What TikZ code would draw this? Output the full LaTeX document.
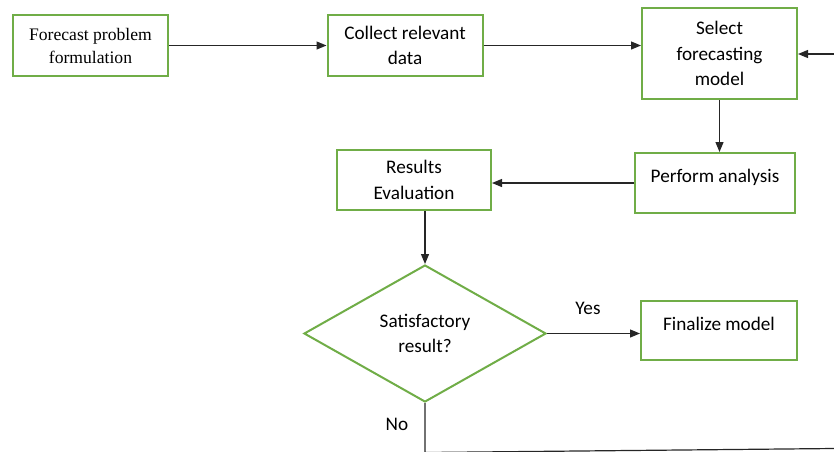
\documentclass[tikz,border=0pt]{standalone}
\usepackage{fontspec}
\setmainfont{Carlito}
\newfontfamily\timesfont{Liberation Serif}
\usetikzlibrary{arrows.meta,shapes.geometric}
\definecolor{boxgreen}{RGB}{112,173,71}
\begin{document}
\begin{tikzpicture}[x=0.5pt, y=-0.5pt, font=\fontsize{9.6}{12.75}\selectfont,
    link/.style={-{Triangle[length=5pt,width=4pt]}, line width=0.6pt, draw=black!85}]
    \useasboundingbox (0,0) rectangle (834,451);

    \begin{scope}[every node/.style={rectangle, draw=boxgreen, line width=1pt, fill=white, align=center, inner sep=0pt, minimum width=77.5pt, minimum height=30.5pt}]
        \node[font=\timesfont\fontsize{8.8}{11.5}\selectfont] (1) at (90.5,45.5) {Forecast problem\\formulation};
        \node (2) at (405,45.5) {Collect relevant\\data};
        \node[minimum height=45.5pt] (3) at (719.5,53.5) {Select\\forecasting\\model};
        \node[minimum width=80pt, minimum height=30pt] (4) at (715,183) {\raisebox{3pt}[\height][\depth]{Perform analysis}};
        \node[minimum width=77pt, minimum height=30pt] (5) at (414,180) {Results\\Evaluation};
        \node[minimum width=78pt, minimum height=29.5pt] (7) at (719,330.5) {\raisebox{3.5pt}[\height][\depth]{Finalize model}};
    \end{scope}

    \begin{scope}[every node/.style={diamond, draw=boxgreen, line width=1pt, fill=white, align=center, inner sep=0pt, minimum width=121pt, minimum height=68.5pt}]
        \node (6) at (425,333.5) {Satisfactory\\result?};
    \end{scope}

    \node (yes) at (588,308) {Yes};
    \node (no) at (397,424) {No};

    \coordinate (in) at (834,54);
    \coordinate (b1) at (425,452.5);
    \coordinate (b2) at (834,448.5);

    \draw[link] (1.east) -- (2.west);
    \draw[link] (2.east) -- (2.east -| 3.west);
    \draw[link] (in) -- (in -| 3.east);
    \draw[link] (3.south) -- (3.south |- 4.north);
    \draw[link] (4.west) -- (4.west -| 5.east);
    \draw[link] (6.north |- 5.south) -- (6.north);
    \draw[link] (6.east) -- (6.east -| 7.west);
    \draw[line width=0.6pt, draw=black!85] (6.south) -- (b1) -- (b2);
\end{tikzpicture}
\end{document}
